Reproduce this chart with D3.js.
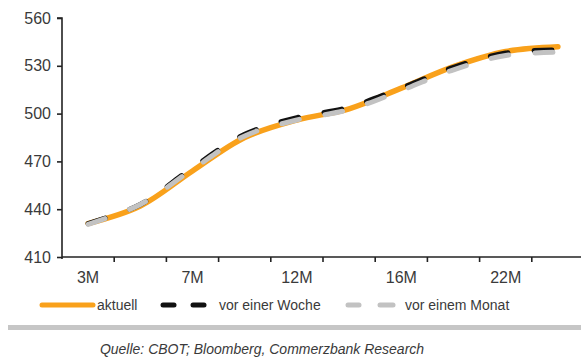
<!DOCTYPE html>
<html><head><meta charset="utf-8">
<script src="https://cdn.jsdelivr.net/npm/d3@7"></script>
<style>
html,body{margin:0;padding:0;background:#fff;}
svg{display:block;}
</style></head>
<body>
<script>
const categories = ["3M","5M","7M","10M","12M","14M","16M","19M","22M","24M"];
const shownLabels = ["3M","7M","12M","16M","22M"];
const aktuell = [431, 442, 464, 485, 496, 503, 516, 529.5, 539, 542];
const vorEinerWoche = [431, 443, 466, 487, 497.5, 504, 516, 529, 538, 540];
const vorEinemMonat = [430.5, 443, 465, 486, 496, 502.5, 514.5, 527.5, 536.5, 538.5];
const yTicks = [410, 440, 470, 500, 530, 560];
const seriesNames = ["aktuell", "vor einer Woche", "vor einem Monat"];
const source = "Quelle: CBOT; Bloomberg, Commerzbank Research";

const W = 581, H = 358;
const svg = d3.select("body").append("svg").attr("width", W).attr("height", H);
const font = "'Liberation Sans', Arial, sans-serif";
const textCol = "#3a3a3a";

const x = d3.scaleBand().domain(categories).range([62, 584]).padding(0);
const y = d3.scaleLinear().domain([410, 560]).range([257, 18]);

// axes
const yAxis = d3.axisLeft(y).tickValues(yTicks).tickSize(5).tickPadding(6);
const gy = svg.append("g").attr("transform", "translate(62,0)").call(yAxis);
gy.select(".domain").attr("stroke", "#222").attr("stroke-width", 1.6).attr("d", "M-5,18H0V259");
gy.selectAll(".tick line").attr("stroke", "#222").attr("stroke-width", 1.6);
gy.selectAll(".tick text").attr("fill", textCol).attr("font-family", font).attr("font-size", 16);

const gx = svg.append("g").attr("transform", "translate(0,257)");
gx.append("line").attr("x1", 62).attr("x2", 581).attr("stroke", "#222").attr("stroke-width", 1.6);
gx.selectAll("line.t").data(categories.slice(1)).enter().append("line")
  .attr("class", "t").attr("x1", d => x(d)).attr("x2", d => x(d))
  .attr("y1", 0).attr("y2", 5).attr("stroke", "#222").attr("stroke-width", 1.6);
gx.selectAll("text").data(shownLabels).enter().append("text")
  .attr("x", d => x(d) + x.bandwidth() / 2).attr("y", 26)
  .attr("text-anchor", "middle").attr("fill", textCol)
  .attr("font-family", font).attr("font-size", 16).text(d => d);

// lines
const line = d3.line()
  .x((d, i) => x(categories[i]) + x.bandwidth() / 2)
  .y(d => y(d))
  .curve(d3.curveCatmullRom.alpha(0.5));

svg.append("path").datum(aktuell).attr("d", line)
  .attr("fill", "none").attr("stroke", "#f9a11b").attr("stroke-width", 5.5).attr("stroke-linecap", "round");
svg.append("path").datum(vorEinerWoche).attr("d", line)
  .attr("fill", "none").attr("stroke", "#111").attr("stroke-width", 5)
  .attr("stroke-dasharray", "18,26").attr("stroke-linecap", "round");
svg.append("path").datum(vorEinemMonat).attr("d", line)
  .attr("fill", "none").attr("stroke", "#c2c2c2").attr("stroke-width", 5)
  .attr("stroke-dasharray", "18,26").attr("stroke-linecap", "round");

// legend
const lg = svg.append("g").attr("font-family", font).attr("font-size", 14).attr("fill", textCol);
const ly = 305;
lg.append("line").attr("x1", 42).attr("x2", 93).attr("y1", ly).attr("y2", ly)
  .attr("stroke", "#f9a11b").attr("stroke-width", 5).attr("stroke-linecap", "round");
lg.append("text").attr("x", 97).attr("y", ly + 5).text(seriesNames[0]);
[[163, 174], [193, 204]].forEach(s => lg.append("line").attr("x1", s[0]).attr("x2", s[1])
  .attr("y1", ly).attr("y2", ly).attr("stroke", "#111").attr("stroke-width", 5).attr("stroke-linecap", "round"));
lg.append("text").attr("x", 219).attr("y", ly + 5).text(seriesNames[1]);
[[348, 359], [380, 393]].forEach(s => lg.append("line").attr("x1", s[0]).attr("x2", s[1])
  .attr("y1", ly).attr("y2", ly).attr("stroke", "#c2c2c2").attr("stroke-width", 5).attr("stroke-linecap", "round"));
lg.append("text").attr("x", 405).attr("y", ly + 5).text(seriesNames[2]);

// separator and source
svg.append("rect").attr("x", 8).attr("y", 325).attr("width", 573).attr("height", 5).attr("fill", "#c6c6c6");
svg.append("text").attr("x", 262).attr("y", 354).attr("text-anchor", "middle")
  .attr("font-family", font).attr("font-size", 14).attr("font-style", "italic")
  .attr("fill", textCol).text(source);
</script>
</body></html>
